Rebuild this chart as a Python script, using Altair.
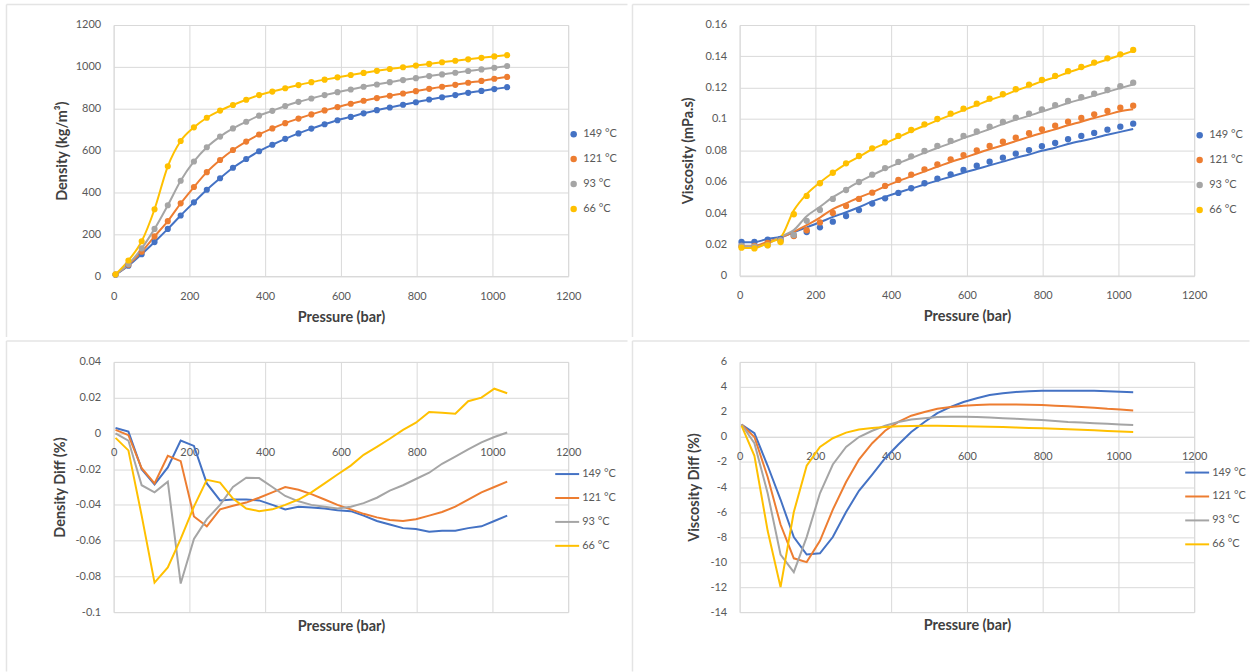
import altair as alt
import pandas as pd

# Pressure steps (bar), shared by every series
pressure = [5, 39, 74, 108, 143, 177, 212, 246, 281, 315, 350, 384, 419, 453, 488, 522,
            557, 591, 626, 660, 695, 729, 764, 798, 833, 867, 902, 936, 971, 1005, 1039]

temps = ["149 °C", "121 °C", "93 °C", "66 °C"]
palette = ["#4472C4", "#ED7D31", "#A5A5A5", "#FFC000"]

# Density (kg/m3)
dens_149 = [7, 50, 105, 163, 226, 290, 353, 413, 468, 518, 560, 597, 628, 656, 682, 705,
            726, 745, 761, 778, 793, 806, 819, 831, 844, 855, 865, 876, 885, 894, 903]
dens_121 = [8, 55, 117, 190, 263, 348, 426, 497, 555, 603, 643, 677, 706, 731, 753, 773,
            792, 808, 824, 838, 851, 862, 873, 884, 895, 905, 914, 924, 933, 943, 952]
dens_93 = [8, 58, 133, 226, 339, 456, 548, 616, 667, 706, 738, 767, 790, 813, 833, 849,
           865, 879, 892, 905, 916, 927, 937, 946, 956, 964, 972, 980, 988, 996, 1004]
dens_66 = [9, 75, 167, 320, 525, 646, 711, 757, 791, 818, 843, 865, 882, 898, 913, 927,
           939, 950, 961, 971, 981, 990, 998, 1006, 1014, 1022, 1029, 1036, 1043, 1050, 1056]

# Viscosity (mPa.s), measured points
visc_149 = [0.0215, 0.0215, 0.0230, 0.0235, 0.0255, 0.0279, 0.0309, 0.0345, 0.0381, 0.0419,
            0.0460, 0.0494, 0.0528, 0.0558, 0.0590, 0.0619, 0.0647, 0.0675, 0.0702, 0.0728,
            0.0753, 0.0779, 0.0802, 0.0826, 0.0847, 0.0871, 0.0892, 0.0911, 0.0932, 0.0951, 0.0970]
visc_121 = [0.0190, 0.0190, 0.0210, 0.0225, 0.0253, 0.0290, 0.0340, 0.0400, 0.0445, 0.0490,
            0.0530, 0.0573, 0.0611, 0.0645, 0.0679, 0.0711, 0.0743, 0.0770, 0.0800, 0.0828,
            0.0855, 0.0881, 0.0909, 0.0934, 0.0957, 0.0983, 0.1007, 0.1030, 0.1051, 0.1072, 0.1085]
visc_93 = [0.0190, 0.0185, 0.0195, 0.0225, 0.0260, 0.0350, 0.0420, 0.0490, 0.0547, 0.0598,
           0.0645, 0.0687, 0.0726, 0.0762, 0.0796, 0.0828, 0.0860, 0.0892, 0.0921, 0.0951,
           0.0981, 0.1009, 0.1034, 0.1062, 0.1088, 0.1115, 0.1139, 0.1162, 0.1185, 0.1209, 0.1232]
visc_66 = [0.0179, 0.0174, 0.0194, 0.0215, 0.0392, 0.0509, 0.0590, 0.0657, 0.0717, 0.0764,
           0.0813, 0.0851, 0.0892, 0.0930, 0.0966, 0.1000, 0.1034, 0.1066, 0.1098, 0.1130,
           0.1158, 0.1190, 0.1219, 0.1249, 0.1275, 0.1305, 0.1332, 0.1360, 0.1387, 0.1413, 0.1441]

# Viscosity (mPa.s), model curves
model_149 = [0.0213, 0.0214, 0.0235, 0.0247, 0.0277, 0.0308, 0.0341, 0.0375, 0.0405, 0.0437,
             0.0474, 0.0503, 0.0531, 0.0556, 0.0582, 0.0607, 0.0632, 0.0657, 0.0681, 0.0704,
             0.0728, 0.0752, 0.0774, 0.0797, 0.0817, 0.0840, 0.0860, 0.0878, 0.0899, 0.0918, 0.0936]
model_121 = [0.0188, 0.0190, 0.0217, 0.0242, 0.0280, 0.0322, 0.0371, 0.0425, 0.0462, 0.0499,
             0.0533, 0.0570, 0.0604, 0.0634, 0.0666, 0.0695, 0.0726, 0.0751, 0.0780, 0.0807,
             0.0833, 0.0859, 0.0886, 0.0911, 0.0934, 0.0960, 0.0983, 0.1007, 0.1028, 0.1049, 0.1062]
model_93 = [0.0188, 0.0186, 0.0204, 0.0248, 0.0291, 0.0380, 0.0440, 0.0501, 0.0551, 0.0598,
            0.0642, 0.0681, 0.0717, 0.0751, 0.0784, 0.0815, 0.0846, 0.0878, 0.0906, 0.0936,
            0.0967, 0.0995, 0.1020, 0.1048, 0.1074, 0.1102, 0.1126, 0.1149, 0.1173, 0.1197, 0.1220]
model_66 = [0.0177, 0.0177, 0.0210, 0.0244, 0.0417, 0.0521, 0.0595, 0.0657, 0.0714, 0.0759,
            0.0807, 0.0844, 0.0884, 0.0922, 0.0957, 0.0991, 0.1025, 0.1057, 0.1089, 0.1121,
            0.1149, 0.1181, 0.1210, 0.1240, 0.1267, 0.1297, 0.1324, 0.1353, 0.1380, 0.1407, 0.1435]

# Density difference (%)
ddiff_149 = [0.003, 0.001, -0.020, -0.0285, -0.019, -0.004, -0.007, -0.028, -0.0375, -0.037,
             -0.037, -0.0375, -0.040, -0.0425, -0.041, -0.0415, -0.042, -0.043, -0.0435, -0.046,
             -0.049, -0.051, -0.053, -0.0535, -0.055, -0.0545, -0.0545, -0.053, -0.052, -0.049, -0.046]
ddiff_121 = [0.002, -0.001, -0.0195, -0.028, -0.0125, -0.0155, -0.0465, -0.052, -0.0425, -0.0405,
             -0.0387, -0.036, -0.033, -0.030, -0.0315, -0.034, -0.037, -0.040, -0.0425, -0.045,
             -0.047, -0.0485, -0.049, -0.048, -0.046, -0.044, -0.041, -0.037, -0.033, -0.030, -0.027]
ddiff_93 = [0.000, -0.004, -0.029, -0.033, -0.027, -0.084, -0.059, -0.048, -0.040, -0.030,
            -0.0248, -0.025, -0.030, -0.035, -0.038, -0.040, -0.041, -0.042, -0.041, -0.039,
            -0.036, -0.032, -0.029, -0.0255, -0.022, -0.017, -0.013, -0.009, -0.005, -0.002, 0.0005]
ddiff_66 = [-0.0025, -0.0095, -0.046, -0.0835, -0.075, -0.059, -0.041, -0.026, -0.0275, -0.0365,
            -0.042, -0.0435, -0.0425, -0.040, -0.037, -0.033, -0.028, -0.023, -0.018, -0.012,
            -0.0075, -0.003, 0.002, 0.006, 0.012, 0.0115, 0.011, 0.018, 0.020, 0.025, 0.0225]

# Viscosity difference (%)
vdiff_149 = [1.0, 0.3, -2.3, -5.0, -8.0, -9.4, -9.3, -8.0, -6.0, -4.3, -3.0, -1.7, -0.6, 0.4,
             1.2, 1.9, 2.4, 2.8, 3.1, 3.35, 3.5, 3.6, 3.65, 3.7, 3.7, 3.7, 3.7, 3.7, 3.65, 3.62, 3.58]
vdiff_121 = [1.0, 0.0, -3.2, -7.0, -9.7, -10.0, -8.3, -5.8, -3.6, -1.8, -0.5, 0.5, 1.2, 1.7,
             2.0, 2.25, 2.4, 2.5, 2.55, 2.6, 2.6, 2.6, 2.58, 2.55, 2.5, 2.45, 2.4, 2.33, 2.25, 2.2, 2.12]
vdiff_93 = [1.0, -0.5, -4.5, -9.4, -10.8, -8.0, -4.5, -2.2, -0.8, 0.0, 0.5, 0.9, 1.2, 1.4,
            1.5, 1.6, 1.62, 1.62, 1.6, 1.55, 1.5, 1.45, 1.4, 1.35, 1.28, 1.2, 1.15, 1.1, 1.05, 1.0, 0.95]
vdiff_66 = [0.9, -1.5, -7.5, -12.0, -6.0, -2.3, -0.8, -0.1, 0.35, 0.6, 0.72, 0.8, 0.85, 0.88,
            0.9, 0.9, 0.88, 0.86, 0.84, 0.82, 0.79, 0.76, 0.72, 0.69, 0.66, 0.62, 0.58, 0.53, 0.48, 0.44, 0.40]

x_ticks = [0, 200, 400, 600, 800, 1000, 1200]
dens_ticks = [0, 200, 400, 600, 800, 1000, 1200]
visc_ticks = [0, 0.02, 0.04, 0.06, 0.08, 0.1, 0.12, 0.14, 0.16]
ddiff_ticks = [-0.1, -0.08, -0.06, -0.04, -0.02, 0, 0.02, 0.04]
vdiff_ticks = [-14, -12, -10, -8, -6, -4, -2, 0, 2, 4, 6]

FONT = "Lato"
GRID = "#D9D9D9"
LABEL = "#595959"
TITLE = "#404040"
SEP = "#E4E4E4"
W = 456
LEFT = -109          # left edge of each panel box, relative to its plot area
RIGHT_L = 517        # right edge of the left-hand panels
RIGHT_R = 513        # right edge of the right-hand panels


def to_long(*series):
    rows = []
    for t, vals in zip(temps, series):
        for p, v in zip(pressure, vals):
            rows.append({"pressure": p, "value": v, "temp": t})
    return pd.DataFrame(rows)


def frame(top, bottom, right):
    """Invisible panel box plus the thin separator lines on its left and top sides."""
    one = alt.Chart(pd.DataFrame({"k": [0]}))
    box = one.mark_rect(opacity=0).encode(
        x=alt.value(LEFT), x2=alt.value(right), y=alt.value(top), y2=alt.value(bottom))
    left = one.mark_rule(color=SEP, strokeWidth=1.5).encode(
        x=alt.value(LEFT + 1.5), y=alt.value(top + 1.5), y2=alt.value(bottom - 1.5))
    upper = one.mark_rule(color=SEP, strokeWidth=1.5).encode(
        x=alt.value(LEFT + 1.5), x2=alt.value(right - 1.5), y=alt.value(top + 1.5))
    return [box, left, upper]


def x_enc(offset, label_pad, title_y):
    axis = alt.Axis(
        values=x_ticks, labelExpr="toString(datum.value)", title="Pressure (bar)",
        grid=True, gridColor=GRID, gridWidth=1, domainColor=GRID, domainWidth=1,
        ticks=False, tickSize=0, labelPadding=label_pad, labelFlush=False, labelOverlap=False,
        labelFont=FONT, labelFontSize=11, labelColor=LABEL,
        titleFont=FONT, titleFontSize=14.5, titleFontWeight="bold", titleColor=TITLE,
        titleX=W / 2, titleY=title_y, titleBaseline="middle", offset=offset)
    return alt.X("pressure:Q", scale=alt.Scale(domain=[0, 1200], nice=False), axis=axis)


def y_enc(title, domain, ticks, h, title_x):
    axis = alt.Axis(
        values=ticks, labelExpr="toString(datum.value)", title=title,
        grid=True, gridColor=GRID, gridWidth=1, domain=False,
        ticks=False, tickSize=0, labelPadding=13, labelFlush=False, labelOverlap=False,
        labelFont=FONT, labelFontSize=11, labelColor=LABEL,
        titleFont=FONT, titleFontSize=14.5, titleFontWeight="bold", titleColor=TITLE,
        titleX=title_x, titleY=h / 2, titleBaseline="middle", titleAlign="center")
    return alt.Y("value:Q", scale=alt.Scale(domain=domain, nice=False, zero=False), axis=axis)


def series_scale():
    return alt.Scale(domain=temps, range=palette)


def dot_legend(lx, ly):
    return alt.Legend(orient="none", legendX=lx, legendY=ly, title=None, padding=0,
                      symbolType="circle", symbolSize=42, labelOffset=4, rowPadding=13,
                      labelFont=FONT, labelFontSize=11, labelColor=LABEL)


def line_legend(lx, ly):
    return alt.Legend(orient="none", legendX=lx, legendY=ly, title=None, padding=0,
                      symbolType="stroke", symbolSize=576, symbolStrokeWidth=2,
                      labelOffset=2, rowPadding=6,
                      labelFont=FONT, labelFontSize=11, labelColor=LABEL)


def curve_layers(df, x, y):
    """One smoothed line per temperature, each in its own series colour."""
    layers = []
    for t, c in zip(temps, palette):
        layers.append(
            alt.Chart(df).transform_filter(alt.datum.temp == t)
            .mark_line(strokeWidth=2, interpolate="monotone", color=c)
            .encode(x=x, y=y))
    return layers


# Top left: density lines with markers
h_a = 252
dens_df = to_long(dens_149, dens_121, dens_93, dens_66)
xa = x_enc(0, 14, 41)
ya = y_enc("Density (kg/m³)", [0, 1200], dens_ticks, h_a, -51)
dens_pts = alt.Chart(dens_df).mark_circle(size=38, opacity=1).encode(
    x=xa, y=ya, color=alt.Color("temp:N", scale=series_scale(), legend=dot_legend(456, 104)))
panel_a = alt.layer(*frame(-22, 314.5, RIGHT_L), *curve_layers(dens_df, xa, ya),
                    dens_pts).properties(width=W, height=h_a)

# Top right: viscosity, measured points and model curves
h_b = 251.5
visc_df = to_long(visc_149, visc_121, visc_93, visc_66)
model_df = to_long(model_149, model_121, model_93, model_66)
xb = x_enc(0, 14, 41)
yb = y_enc("Viscosity (mPa.s)", [0, 0.16], visc_ticks, h_b, -51)
visc_pts = alt.Chart(visc_df).mark_circle(size=40, opacity=1).encode(
    x=xb, y=yb, color=alt.Color("temp:N", scale=series_scale(), legend=dot_legend(456, 105)))
panel_b = alt.layer(*frame(-22, 314.5, RIGHT_R), *curve_layers(model_df, xb, yb),
                    visc_pts).properties(width=W, height=h_b)

# Bottom left: density difference, x axis crossing at zero
h_c = 251
zero_c = h_c * 0.04 / 0.14
ddiff_df = to_long(ddiff_149, ddiff_121, ddiff_93, ddiff_66)
xc = x_enc(-(h_c - zero_c), 13, (h_c - zero_c) + 14)
yc = y_enc("Density Diff (%)", [-0.1, 0.04], ddiff_ticks, h_c, -53)
ddiff_lines = alt.Chart(ddiff_df).mark_line(strokeWidth=2).encode(
    x=xc, y=yc, color=alt.Color("temp:N", scale=series_scale(), legend=line_legend(442, 99.5)))
panel_c = alt.layer(*frame(-22.5, 312, RIGHT_L), ddiff_lines).properties(
    width=W, height=h_c)

# Bottom right: viscosity difference, x axis crossing at zero
h_d = 251
zero_d = h_d * 6 / 20
vdiff_df = to_long(vdiff_149, vdiff_121, vdiff_93, vdiff_66)
xd = x_enc(-(h_d - zero_d), 14, (h_d - zero_d) + 13)
yd = y_enc("Viscosity Diff (%)", [-14, 6], vdiff_ticks, h_d, -45)
vdiff_lines = alt.Chart(vdiff_df).mark_line(strokeWidth=2).encode(
    x=xd, y=yd, color=alt.Color("temp:N", scale=series_scale(), legend=line_legend(446, 98)))
panel_d = alt.layer(*frame(-22.5, 312, RIGHT_R), vdiff_lines).properties(
    width=W, height=h_d)

top_row = alt.hconcat(panel_a, panel_b, spacing=0).resolve_scale(
    x="independent", y="independent", color="independent"
).resolve_legend(color="independent")
bottom_row = alt.hconcat(panel_c, panel_d, spacing=0).resolve_scale(
    x="independent", y="independent", color="independent"
).resolve_legend(color="independent")

chart = alt.vconcat(top_row, bottom_row, spacing=0).resolve_scale(
    x="independent", y="independent", color="independent"
).resolve_legend(color="independent").properties(
    padding={"left": 4, "top": 1, "right": 0, "bottom": 0},
    background="white").configure_view(strokeWidth=0).configure(font=FONT)

chart.save("out.html", embed_options={"renderer": "svg", "actions": False})
